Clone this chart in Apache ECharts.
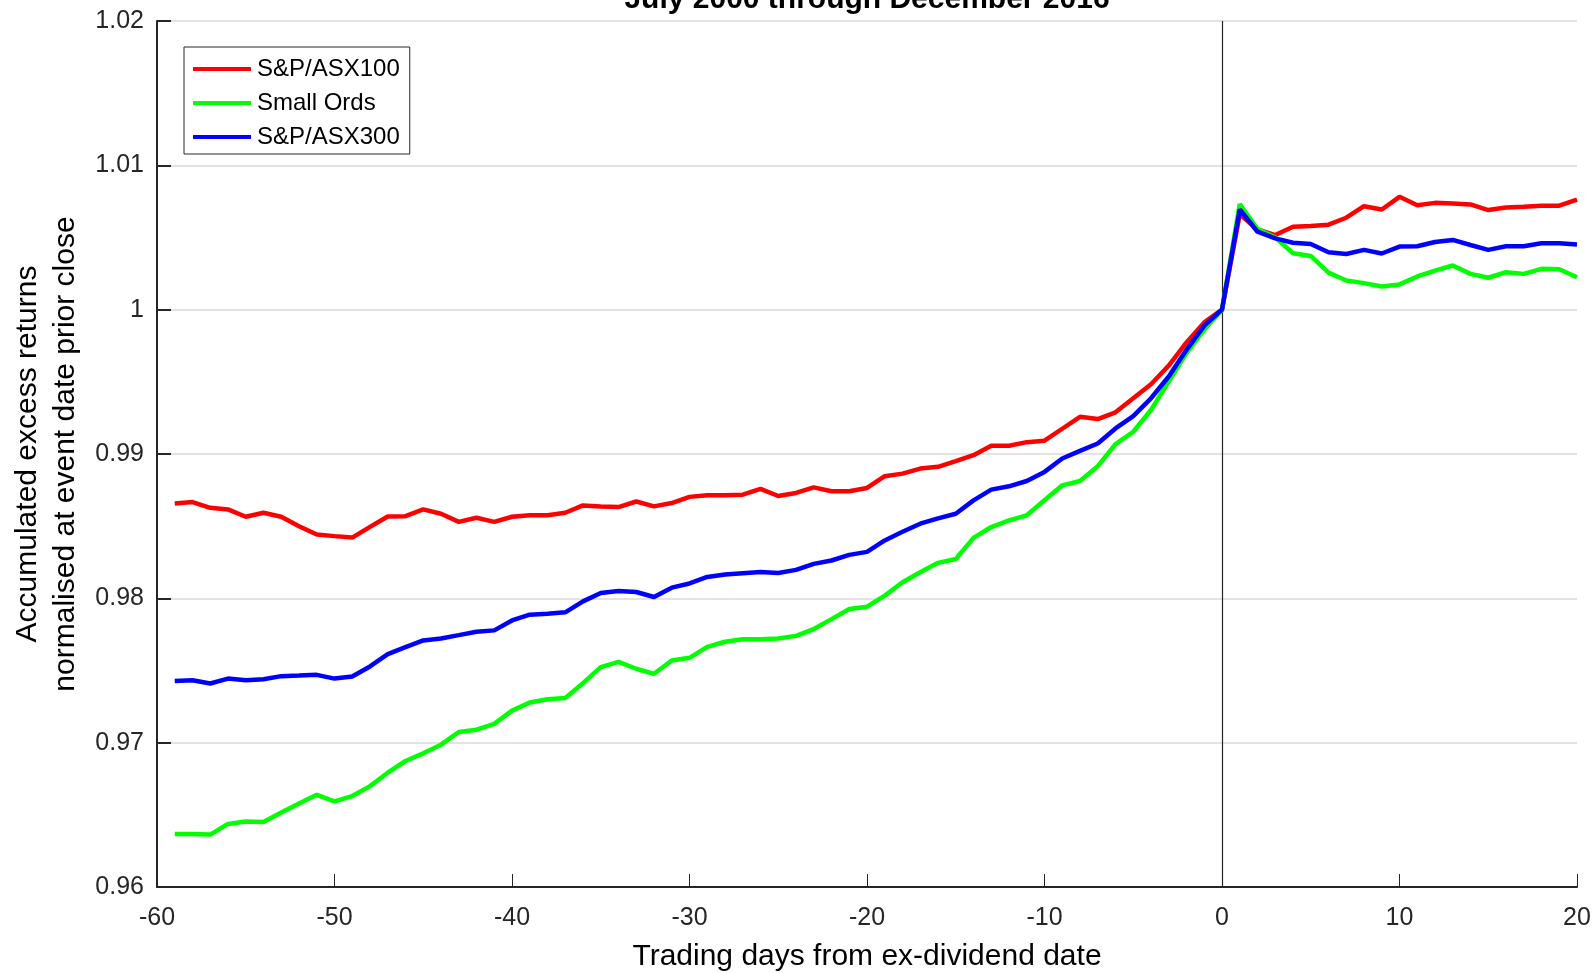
<!DOCTYPE html>
<html>
<head>
<meta charset="utf-8">
<title>Excess returns around ex-dividend date</title>
<script src="https://cdn.jsdelivr.net/npm/echarts@6/dist/echarts.min.js"></script>
<style>
  html, body { margin: 0; padding: 0; background: #fff; }
  #chart { width: 1593px; height: 973px; }
</style>
</head>
<body>
<div id="chart"></div>
<script>
var days = [-59, -58, -57, -56, -55, -54, -53, -52, -51, -50,
	-49, -48, -47, -46, -45, -44, -43, -42, -41, -40,
	-39, -38, -37, -36, -35, -34, -33, -32, -31, -30,
	-29, -28, -27, -26, -25, -24, -23, -22, -21, -20,
	-19, -18, -17, -16, -15, -14, -13, -12, -11, -10,
	-9, -8, -7, -6, -5, -4, -3, -2, -1, 0,
	1, 2, 3, 4, 5, 6, 7, 8, 9, 10,
	11, 12, 13, 14, 15, 16, 17, 18, 19, 20];

var asx100 = [0.98657, 0.98667, 0.98627, 0.98616, 0.98565, 0.98593, 0.98565, 0.98500, 0.98442, 0.98431,
	0.98421, 0.98495, 0.98567, 0.98569, 0.98616, 0.98586, 0.98530, 0.98558, 0.98530, 0.98565,
	0.98576, 0.98576, 0.98593, 0.98644, 0.98637, 0.98632, 0.98671, 0.98637, 0.98660, 0.98703,
	0.98714, 0.98714, 0.98718, 0.98758, 0.98709, 0.98730, 0.98769, 0.98742, 0.98742, 0.98765,
	0.98846, 0.98864, 0.98899, 0.98911, 0.98950, 0.98992, 0.99057, 0.99057, 0.99082, 0.99092,
	0.99175, 0.99258, 0.99242, 0.99289, 0.99386, 0.99483, 0.99613, 0.99773, 0.99912, 1.00000,
	1.00660, 1.00556, 1.00517, 1.00575, 1.00579, 1.00589, 1.00637, 1.00717, 1.00694, 1.00782,
	1.00724, 1.00740, 1.00736, 1.00729, 1.00690, 1.00708, 1.00713, 1.00720, 1.00720, 1.00763];

var smallOrds = [0.96368, 0.96368, 0.96363, 0.96437, 0.96454, 0.96451, 0.96516, 0.96579, 0.96639, 0.96593,
	0.96630, 0.96699, 0.96792, 0.96873, 0.96926, 0.96986, 0.97074, 0.97090, 0.97130, 0.97222,
	0.97278, 0.97301, 0.97310, 0.97412, 0.97523, 0.97560, 0.97512, 0.97477, 0.97569, 0.97588,
	0.97664, 0.97699, 0.97717, 0.97717, 0.97722, 0.97740, 0.97787, 0.97856, 0.97926, 0.97942,
	0.98019, 0.98111, 0.98181, 0.98246, 0.98273, 0.98419, 0.98494, 0.98540, 0.98575, 0.98679,
	0.98783, 0.98813, 0.98915, 0.99068, 0.99154, 0.99305, 0.99502, 0.99699, 0.99861, 1.00000,
	1.00731, 1.00559, 1.00501, 1.00391, 1.00372, 1.00257, 1.00202, 1.00184, 1.00161, 1.00175,
	1.00230, 1.00271, 1.00306, 1.00248, 1.00221, 1.00260, 1.00248, 1.00283, 1.00280, 1.00225];

var asx300 = [0.97428, 0.97433, 0.97410, 0.97444, 0.97433, 0.97440, 0.97461, 0.97465, 0.97470, 0.97444,
	0.97458, 0.97528, 0.97613, 0.97662, 0.97708, 0.97722, 0.97745, 0.97769, 0.97778, 0.97847,
	0.97887, 0.97894, 0.97903, 0.97979, 0.98037, 0.98051, 0.98044, 0.98009, 0.98074, 0.98103,
	0.98148, 0.98165, 0.98174, 0.98182, 0.98176, 0.98197, 0.98239, 0.98262, 0.98301, 0.98322,
	0.98401, 0.98461, 0.98517, 0.98554, 0.98586, 0.98679, 0.98753, 0.98776, 0.98813, 0.98876,
	0.98969, 0.99022, 0.99073, 0.99177, 0.99263, 0.99386, 0.99537, 0.99722, 0.99889, 1.00000,
	1.00694, 1.00540, 1.00494, 1.00464, 1.00455, 1.00398, 1.00386, 1.00414, 1.00389, 1.00437,
	1.00439, 1.00469, 1.00483, 1.00448, 1.00414, 1.00439, 1.00439, 1.00460, 1.00460, 1.00451];

var seriesNames = ['S&P/ASX100', 'Small Ords', 'S&P/ASX300'];
var seriesColors = ['#ff0000', '#00ff00', '#0000ff'];

function pairs(vals) {
	var out = [];
	for (var i = 0; i < days.length; i++) {
		out.push([days[i], vals[i]]);
	}
	return out;
}

var font = 'Liberation Sans, Arial, Helvetica, sans-serif';
var axisColor = '#262626';

var chart = echarts.init(document.getElementById('chart'), null, { renderer: 'canvas' });

function lineSeries(idx, vals) {
	var s = {
		name: seriesNames[idx],
		type: 'line',
		data: pairs(vals),
		symbol: 'none',
		smooth: false,
		animation: false,
		lineStyle: { color: seriesColors[idx], width: 4.5 },
		itemStyle: { color: seriesColors[idx] },
		z: 3 + idx
	};
	return s;
}

var s0 = lineSeries(0, asx100);
// vertical line at the ex-dividend date
s0.markLine = {
	silent: true,
	symbol: 'none',
	label: { show: false },
	lineStyle: { color: axisColor, width: 1.2, type: 'solid' },
	data: [{ xAxis: 0 }],
	z: 1
};

var option = {
	backgroundColor: '#ffffff',
	animation: false,
	title: {
		text: 'July 2000 through December 2016',
		left: 862,
		textAlign: 'center',
		top: -20,
		textStyle: { fontFamily: font, fontSize: 30, fontWeight: 'bold', color: '#000' }
	},
	grid: { left: 157, right: 16, top: 21, bottom: 86, containLabel: false, outerBoundsMode: 'none' },
	legend: {
		orient: 'vertical',
		left: 184,
		top: 47,
		padding: [10, 10, 5, 9],
		backgroundColor: '#fff',
		borderColor: axisColor,
		borderWidth: 1,
		icon: 'rect',
		itemWidth: 58,
		itemHeight: 4,
		itemGap: 10,
		data: seriesNames,
		textStyle: { fontFamily: font, fontSize: 24, color: '#000', padding: [0, 0, 0, 1] }
	},
	xAxis: {
		type: 'value',
		min: -60,
		max: 20,
		interval: 10,
		name: 'Trading days from ex-dividend date',
		nameLocation: 'middle',
		nameGap: 55,
		nameTextStyle: { fontFamily: font, fontSize: 30, color: '#000' },
		axisLine: { show: true, onZero: false, lineStyle: { color: axisColor, width: 2 } },
		axisTick: { show: true, inside: true, length: 13, lineStyle: { color: axisColor, width: 1 } },
		axisLabel: { fontFamily: font, fontSize: 25, color: '#262626', margin: 19 },
		splitLine: { show: false }
	},
	yAxis: {
		type: 'value',
		min: 0.96,
		max: 1.02,
		interval: 0.01,
		name: 'Accumulated excess returns\nnormalised at event date prior close',
		nameLocation: 'middle',
		nameGap: 68,
		nameTextStyle: { fontFamily: font, fontSize: 30, color: '#000', lineHeight: 38 },
		axisLine: { show: true, onZero: false, lineStyle: { color: axisColor, width: 2 } },
		axisTick: { show: true, inside: true, length: 14, lineStyle: { color: axisColor, width: 2 } },
		axisLabel: {
			fontFamily: font, fontSize: 25, color: '#262626', margin: 13,
			formatter: function(v) { return parseFloat(v.toFixed(2)).toString(); }
		},
		splitLine: { show: true, lineStyle: { color: '#dadada', width: 1.5 } }
	},
	series: [s0, lineSeries(1, smallOrds), lineSeries(2, asx300)]
};

chart.setOption(option);
</script>
</body>
</html>
